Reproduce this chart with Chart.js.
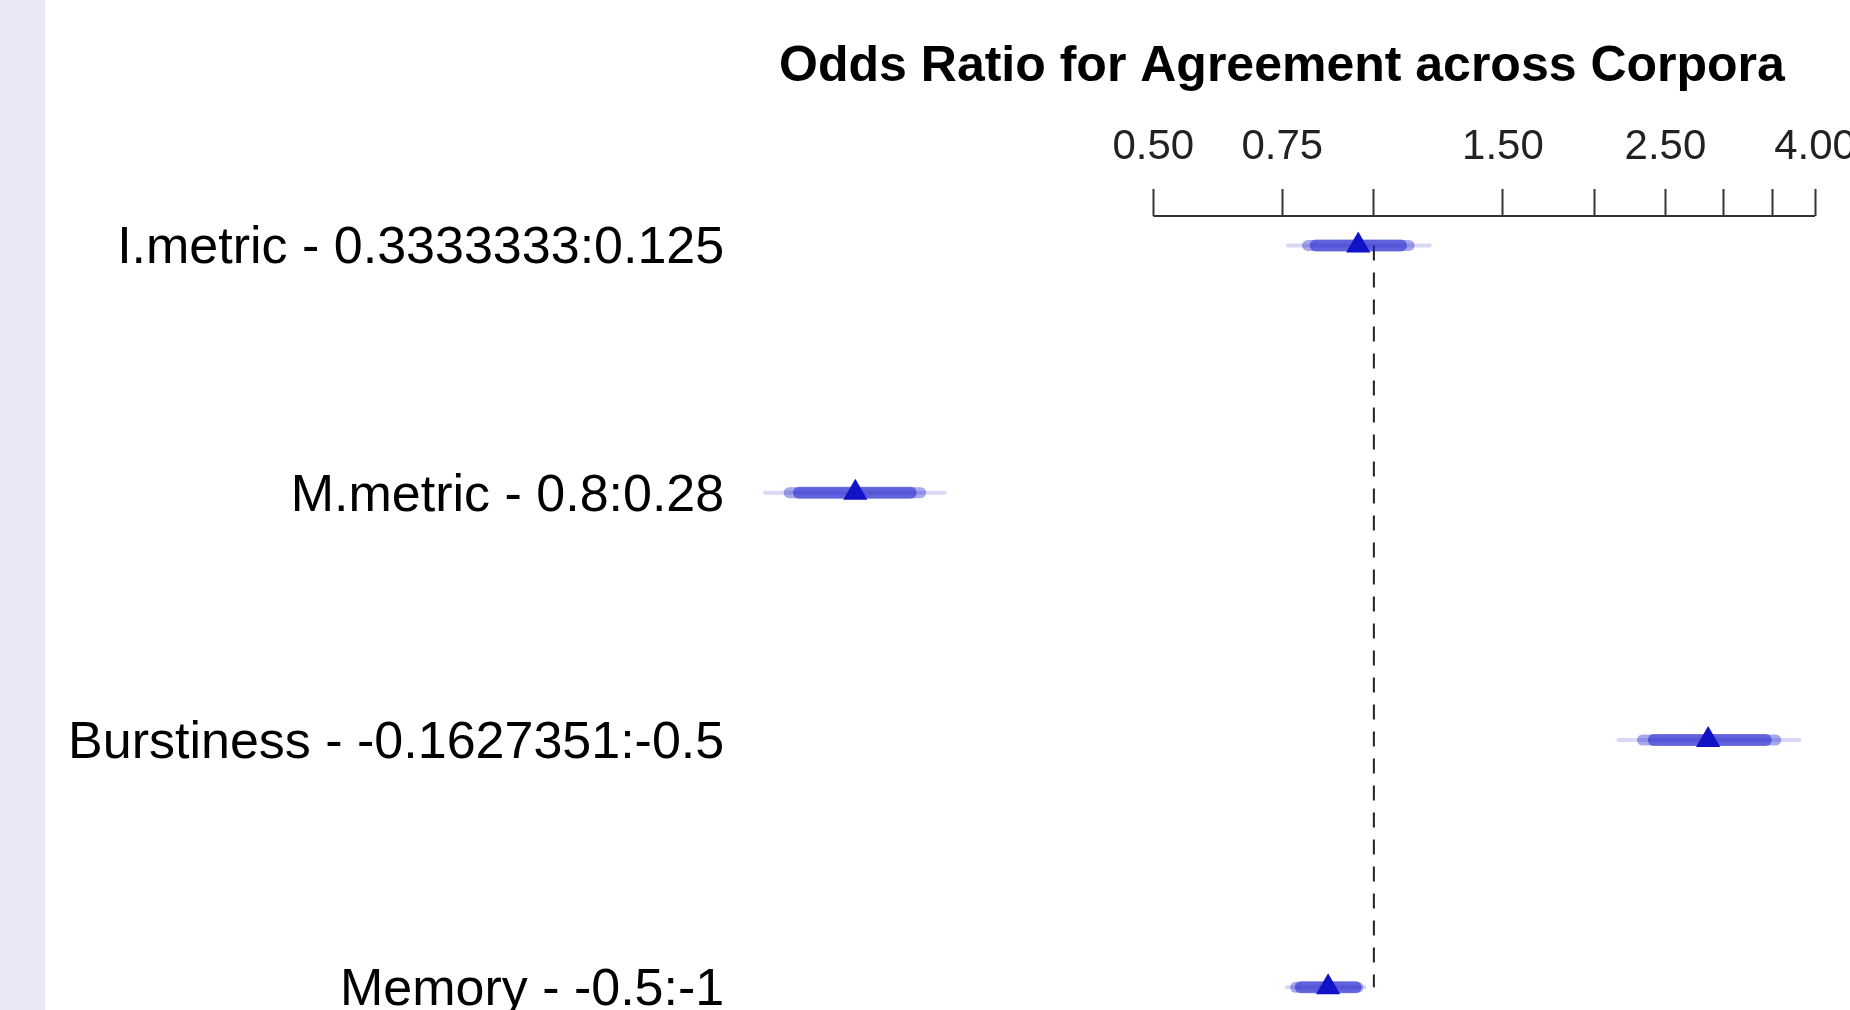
<!DOCTYPE html>
<html>
<head>
<meta charset="utf-8">
<script src="https://cdn.jsdelivr.net/npm/chart.js@4.4.1/dist/chart.umd.min.js"></script>
<style>
  html, body { margin: 0; padding: 0; background: #fff; overflow: hidden; width: 1850px; height: 1010px; }
  #strip { position: absolute; left: 0; top: 0; width: 45px; height: 1010px; background: #e9e9f6; }
  #orChart { position: absolute; left: 0; top: 0; }
</style>
</head>
<body>
<div id="strip"></div>
<canvas id="orChart" width="1900" height="1060"></canvas>
<script>
// rows, top to bottom
const rowLabels = ['I.metric - 0.3333333:0.125', 'M.metric - 0.8:0.28', 'Burstiness - -0.1627351:-0.5', 'Memory - -0.5:-1'];
const rowPos = [1, 2, 3, 4];

// odds ratio estimates and intervals
const oddsRatio = [0.952, 0.196, 2.859, 0.866];
const lower99 = [0.763, 0.1476, 2.157, 0.761];
const upper99 = [1.192, 0.2595, 3.811, 0.971];
const lower95 = [0.812, 0.1592, 2.326, 0.782];
const upper95 = [1.117, 0.2407, 3.535, 0.951];
const lower90 = [0.833, 0.1642, 2.410, 0.795];
const upper90 = [1.089, 0.2332, 3.426, 0.944];

// axis ticks
const tickValues = [0.5, 0.75, 1, 1.5, 2, 2.5, 3, 3.5, 4];
const tickLabels = ['0.50', '0.75', '', '1.50', '', '2.50', '', '', '4.00'];

const xMin = 0.15, xMax = 4;
const yMin = 0.881, yMax = 4;
const blue = 'rgba(26, 26, 204, ';

Chart.defaults.font.family = '"Liberation Sans", Arial, Helvetica, sans-serif';
Chart.defaults.color = '#000';

const datasets = [];

// axis line, only over the labelled range
datasets.push({
    data: [{ x: tickValues[0], y: yMin }, { x: tickValues[tickValues.length - 1], y: yMin }],
    borderColor: '#333',
    borderWidth: 2,
    pointRadius: 0,
    order: 20
});

// reference line at OR = 1
datasets.push({
    data: [{ x: 1, y: rowPos[0] }, { x: 1, y: rowPos[rowPos.length - 1] }],
    borderColor: '#222',
    borderWidth: 2,
    borderDash: [15, 12],
    pointRadius: 0,
    order: 10
});

const levels = [
    { lo: lower99, hi: upper99, width: 4, alpha: 0.17, order: 6 },
    { lo: lower95, hi: upper95, width: 11, alpha: 0.38, order: 5 },
    { lo: lower90, hi: upper90, width: 12, alpha: 0.5, order: 4 }
];

levels.forEach(lv => {
    rowPos.forEach((r, i) => {
        datasets.push({
            data: [{ x: lv.lo[i], y: r }, { x: lv.hi[i], y: r }],
            borderColor: blue + lv.alpha + ')',
            borderWidth: lv.width,
            borderCapStyle: 'round',
            pointRadius: 0,
            order: lv.order
        });
    });
});

// point estimates
datasets.push({
    data: rowPos.map((r, i) => ({ x: oddsRatio[i], y: r })),
    showLine: false,
    pointStyle: 'triangle',
    pointRadius: 14,
    pointBorderWidth: 0,
    pointBackgroundColor: '#1212c6',
    order: 1
});

// title centred over the plot region
const titlePlugin = {
    id: 'plotTitle',
    afterDraw(chart) {
        const ctx = chart.ctx;
        ctx.save();
        ctx.font = 'bold 50px "Liberation Sans", Arial, sans-serif';
        ctx.fillStyle = '#000';
        ctx.textAlign = 'center';
        ctx.textBaseline = 'middle';
        ctx.fillText('Odds Ratio for Agreement across Corpora', 1282, 67);
        ctx.restore();
    }
};

new Chart(document.getElementById('orChart'), {
    type: 'line',
    data: { datasets: datasets },
    plugins: [titlePlugin],
    options: {
        responsive: false,
        animation: false,
        devicePixelRatio: 1,
        clip: false,
        layout: { padding: { left: 0, top: 0, right: 85, bottom: 72.7 } },
        plugins: { legend: { display: false }, tooltip: { enabled: false } },
        scales: {
            x: {
                type: 'logarithmic',
                position: 'top',
                min: xMin,
                max: xMax,
                afterFit: s => { s.height = 216; },
                afterBuildTicks: s => { s.ticks = tickValues.map(v => ({ value: v })); },
                border: { display: false },
                grid: { drawOnChartArea: false, drawTicks: true, tickLength: 27, tickWidth: 2, color: '#333' },
                ticks: {
                    autoSkip: false,
                    maxRotation: 0,
                    minRotation: 0,
                    padding: 16.6,
                    color: '#222',
                    font: { size: 42 },
                    callback: (v, i) => tickLabels[i]
                }
            },
            y: {
                type: 'linear',
                reverse: true,
                min: yMin,
                max: yMax,
                afterFit: s => { s.width = 770.2; },
                afterBuildTicks: s => { s.ticks = rowPos.map(v => ({ value: v })); },
                border: { display: false },
                // invisible tick marks set the gap between labels and plot
                grid: { drawOnChartArea: false, drawTicks: true, tickLength: 46, color: 'rgba(0,0,0,0)' },
                ticks: {
                    autoSkip: false,
                    padding: 0,
                    labelOffset: 3.5,
                    color: '#000',
                    font: { size: 52 },
                    callback: (v, i) => rowLabels[i]
                }
            }
        }
    }
});
</script>
</body>
</html>
